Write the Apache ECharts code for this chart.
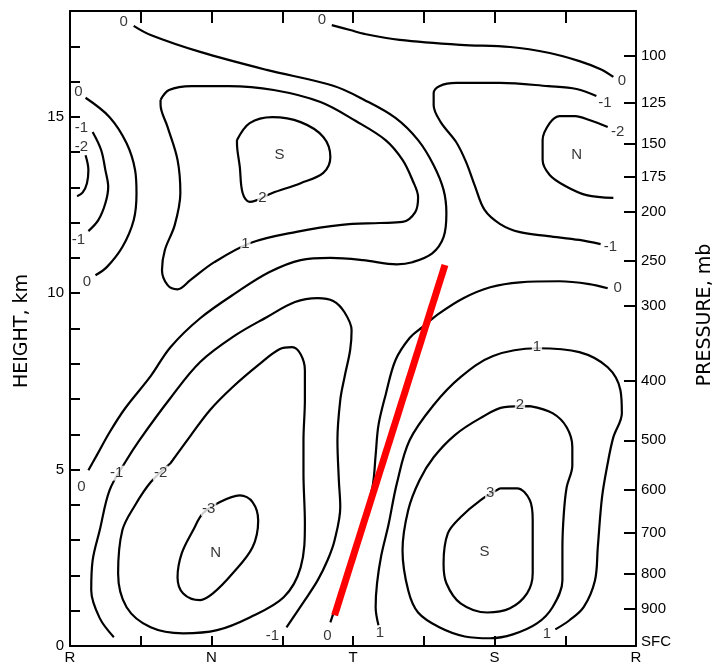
<!DOCTYPE html>
<html>
<head>
<meta charset="utf-8">
<script src="https://cdn.jsdelivr.net/npm/echarts@6/dist/echarts.min.js"></script>
<style>html,body{margin:0;padding:0;background:#fff}#chart{width:714px;height:665px}</style>
</head>
<body>
<div id="chart"></div>
<script>
// x positions: 0=R, 1=N, 2=T, 3=S, 4=R ; y = height (km)
const xTickLabels = ['R', 'N', 'T', 'S', 'R'];
const heightLabels = [0, 5, 10, 15];
const pressureLabels = ['100','125','150','175','200','250','300','400','500','600','700','800','900','SFC'];
const pressureHeights = [16.73, 15.39, 14.23, 13.31, 12.32, 10.91, 9.64, 7.52, 5.83, 4.42, 3.20, 2.04, 1.05, 0.12];

// contour lines (x, height km)
const c0TopLeft = [[0.45,17.58],[0.57,17.32],[0.92,16.84],[1.39,16.33],[1.86,15.88],[2.08,15.48],[2.30,14.97],[2.46,14.34],[2.57,13.63],[2.64,12.93],[2.66,12.27],[2.64,11.59],[2.56,11.13],[2.42,10.88],[2.31,10.82],[2.07,10.94],[1.84,11.00],[1.63,10.94],[1.41,10.60],[1.18,10.03],[0.92,9.29],[0.71,8.47],[0.57,7.65],[0.39,6.74],[0.28,6.06],[0.19,5.41],[0.13,4.98]];
const c0Top = [[1.85,17.60],[1.98,17.46],[2.08,17.35],[2.33,17.18],[2.76,17.04],[3.11,16.98],[3.39,16.81],[3.60,16.58],[3.75,16.35],[3.84,16.13]];
const c1Upper = [[0.64,15.48],[0.70,15.76],[0.86,15.87],[1.12,15.87],[1.44,15.76],[1.77,15.42],[2.02,14.88],[2.23,14.34],[2.35,13.78],[2.42,13.21],[2.46,12.72],[2.44,12.30],[2.35,12.02],[2.19,11.99],[1.92,11.94],[1.60,11.74],[1.28,11.43],[1.02,10.88],[0.85,10.37],[0.76,10.11],[0.69,10.23],[0.65,10.66],[0.67,11.22],[0.74,11.93],[0.78,12.84],[0.76,13.78],[0.69,14.71],[0.64,15.34],[0.64,15.48]];
const c2Upper = [[1.18,14.34],[1.27,14.82],[1.43,14.99],[1.63,14.85],[1.79,14.43],[1.84,13.86],[1.79,13.41],[1.63,13.12],[1.43,12.84],[1.27,12.59],[1.22,12.84],[1.20,13.58],[1.18,14.26],[1.18,14.34]];
const cm1UpperRight = [[3.72,15.59],[3.58,15.79],[3.38,15.87],[3.04,15.96],[2.73,15.96],[2.61,15.87],[2.57,15.67],[2.57,15.33],[2.62,14.85],[2.73,14.28],[2.80,13.71],[2.86,13.06],[2.93,12.36],[3.04,11.96],[3.18,11.73],[3.38,11.62],[3.60,11.51],[3.75,11.39]];
const cm2UpperRight = [[3.80,14.71],[3.67,14.91],[3.57,15.02],[3.46,15.02],[3.39,14.82],[3.34,14.34],[3.34,13.78],[3.39,13.35],[3.50,13.04],[3.65,12.78],[3.84,12.70]];
const c0Left = [[0.11,15.54],[0.28,14.99],[0.40,14.25],[0.46,13.49],[0.47,12.83],[0.45,12.07],[0.37,11.31],[0.26,10.74],[0.18,10.51]];
const cm1Left = [[0.16,14.57],[0.22,14.06],[0.25,13.49],[0.27,13.01],[0.25,12.55],[0.20,12.07],[0.13,11.76]];
const cm2Left = [[0.11,13.91],[0.13,13.49],[0.12,13.12],[0.09,12.86],[0.05,12.75]];
const cm1Lower = [[0.31,0.25],[0.21,0.79],[0.15,1.58],[0.16,2.43],[0.21,3.28],[0.28,4.42],[0.39,5.21],[0.49,5.83],[0.71,7.03],[0.92,8.05],[1.17,8.81],[1.39,9.32],[1.59,9.75],[1.75,9.86],[1.86,9.78],[1.94,9.46],[1.99,8.95],[1.98,8.39],[1.94,7.62],[1.91,6.97],[1.89,5.83],[1.90,4.70],[1.91,3.94],[1.87,3.00],[1.82,2.43],[1.75,1.86],[1.66,1.30],[1.53,0.53]];
const cm2Lower = [[0.71,5.18],[0.85,5.95],[0.99,6.69],[1.15,7.34],[1.33,7.96],[1.48,8.41],[1.57,8.47],[1.63,8.27],[1.66,7.82],[1.66,6.97],[1.65,5.83],[1.65,4.90],[1.66,3.48],[1.63,2.23],[1.51,1.38],[1.27,0.81],[1.04,0.45],[0.80,0.36],[0.57,0.53],[0.40,1.10],[0.34,2.06],[0.37,3.28],[0.46,3.99],[0.57,4.64],[0.71,5.18]];
const cm3Lower = [[1.06,4.08],[1.20,4.27],[1.29,4.08],[1.33,3.56],[1.29,2.80],[1.15,2.06],[1.01,1.49],[0.92,1.30],[0.80,1.49],[0.76,1.95],[0.79,2.63],[0.87,3.28],[0.94,3.76],[1.06,4.08]];
const c0Lower = [[1.84,0.67],[1.88,1.15],[1.94,1.92],[2.02,2.86],[2.09,3.79],[2.14,4.56],[2.16,5.41],[2.18,6.26],[2.23,7.11],[2.30,8.10],[2.40,8.73],[2.49,9.04],[2.61,9.43],[2.78,9.86],[2.97,10.17],[3.18,10.31],[3.46,10.34],[3.67,10.26],[3.80,10.14]];
const c1Lower = [[2.18,0.59],[2.16,1.10],[2.17,1.78],[2.20,2.57],[2.25,3.42],[2.31,4.61],[2.40,5.83],[2.57,6.83],[2.76,7.62],[2.99,8.22],[3.30,8.44],[3.60,8.33],[3.80,7.90],[3.89,7.25],[3.90,6.60],[3.84,5.92],[3.80,5.18],[3.76,4.22],[3.73,2.80],[3.71,1.86],[3.63,1.10],[3.53,0.73],[3.43,0.47]];
const c2Lower = [[3.25,6.80],[3.41,6.60],[3.51,6.20],[3.55,5.64],[3.55,5.12],[3.51,4.50],[3.49,3.76],[3.48,2.80],[3.48,1.86],[3.41,1.10],[3.30,0.64],[3.13,0.33],[2.97,0.22],[2.79,0.27],[2.61,0.53],[2.46,0.95],[2.39,1.58],[2.35,2.71],[2.39,3.85],[2.47,4.70],[2.57,5.35],[2.72,5.98],[2.90,6.46],[3.07,6.77],[3.25,6.80]];
const c3Lower = [[3.04,4.47],[3.16,4.47],[3.25,4.13],[3.27,3.56],[3.27,2.06],[3.23,1.49],[3.11,1.07],[2.95,0.95],[2.76,1.21],[2.66,1.78],[2.64,2.34],[2.67,3.19],[2.76,3.65],[2.90,4.13],[3.04,4.47]];
const troughLine = [[2.65,10.80],[1.87,0.87]];

// contour labels
const labelTexts = ['0','0','0','-1','-2','-1','0','1','2','3','1','1','0','-1','-3','-2','-1','0','0','-1','-2','-1','0','1','2','S','N','N','S'];
const labelXs =    [0.38,1.78,3.90,3.78,3.87,3.82,3.87,3.30,3.18,2.97,3.37,2.19,1.82,1.43,0.98,0.64,0.33,0.08,0.12,0.06,0.08,0.08,0.06,1.24,1.36,1.48,3.58,1.03,2.93];
const labelYs =    [17.69,17.75,16.02,15.39,14.56,11.31,10.14,8.47,6.83,4.33,0.33,0.36,0.30,0.30,3.90,4.90,4.90,4.50,10.31,11.50,14.14,14.68,15.70,11.39,12.70,13.92,13.92,2.63,2.68];
const labelInLine = [0,0,0,0,0,0,0,1,1,1,0,0,0,0,1,1,1,0,0,0,0,0,0,1,1,0,0,0,0];

const contours = [c0TopLeft,c0Top,c1Upper,c2Upper,cm1UpperRight,cm2UpperRight,c0Left,cm1Left,cm2Left,cm1Lower,cm2Lower,cm3Lower,c0Lower,c1Lower,c2Lower,c3Lower];

const FONT = 'Liberation Sans';
const series = contours.map(d => ({
  type: 'line', data: d, smooth: 0.35, showSymbol: false, symbol: 'none', silent: true,
  lineStyle: { color: '#000', width: 2.2 }, z: 2, clip: true
}));
series.push({
  type: 'line', data: troughLine, showSymbol: false, symbol: 'none', silent: true,
  lineStyle: { color: '#ff0000', width: 7, cap: 'butt' }, z: 5
});
const lblData = labelTexts.map((t, i) => ({ value: [labelXs[i], labelYs[i]], name: t,
  label: labelInLine[i] ? { backgroundColor: '#fff', padding: [0, 1] } : {} }));
series.push({
  type: 'scatter', data: lblData, symbolSize: 1, silent: true, z: 10,
  itemStyle: { color: 'rgba(0,0,0,0)' },
  label: { show: true, position: 'inside', formatter: p => p.name, color: '#000',
    fontSize: 15, fontFamily: FONT }
});

const chart = echarts.init(document.getElementById('chart'), null, { renderer: 'canvas' });
const axisLineStyle = { color: '#000', width: 2 };
chart.setOption({
  animation: false,
  backgroundColor: '#fff',
  grid: { left: 70, right: 78, top: 11, bottom: 19, containLabel: false },
  xAxis: [
    { type: 'value', min: 0, max: 4, interval: 0.5, position: 'bottom',
      axisLine: { onZero: false, lineStyle: axisLineStyle },
      axisTick: { inside: true, length: 10, lineStyle: { color: '#000', width: 2 } },
      axisLabel: { margin: 4, color: '#000', fontSize: 15, fontFamily: FONT,
        formatter: v => (Math.abs(v - Math.round(v)) < 1e-6 ? xTickLabels[Math.round(v)] : '') },
      splitLine: { show: false } },
    { type: 'value', min: 0, max: 4, interval: 0.5, position: 'top',
      axisLine: { onZero: false, lineStyle: axisLineStyle },
      axisTick: { inside: true, length: 12, lineStyle: { color: '#000', width: 2 } },
      axisLabel: { show: false }, splitLine: { show: false } }
  ],
  yAxis: [
    { type: 'value', min: 0, max: 18, interval: 1, position: 'left',
      axisLine: { onZero: false, lineStyle: axisLineStyle },
      axisTick: { inside: true, length: 10, lineStyle: { color: '#000', width: 2 } },
      axisLabel: { margin: 6, color: '#000', fontSize: 15, fontFamily: FONT,
        formatter: v => (heightLabels.indexOf(v) >= 0 ? String(v) : '') },
      splitLine: { show: false } },
    { type: 'value', min: 0, max: 18, position: 'right',
      axisLine: { onZero: false, lineStyle: axisLineStyle },
      axisTick: { inside: true, length: 12, lineStyle: { color: '#000', width: 2 },
        customValues: pressureHeights.slice(0, 13) },
      axisLabel: { margin: 5, color: '#000', fontSize: 15, fontFamily: FONT,
        customValues: pressureHeights,
        formatter: v => { let best = 0, bd = 1e9; pressureHeights.forEach((h, i) => { const d = Math.abs(h - v); if (d < bd) { bd = d; best = i; } }); return pressureLabels[best]; } },
      splitLine: { show: false } }
  ],
  graphic: [
    { type: 'text', x: 22, y: 331, rotation: Math.PI / 2, silent: true,
      style: { text: 'HEIGHT, km', fill: '#000', font: '19px "DejaVu Sans"', align: 'center', verticalAlign: 'middle' } },
    { type: 'text', x: 705, y: 315, rotation: Math.PI / 2, silent: true,
      style: { text: 'PRESSURE, mb', fill: '#000', font: '19px "DejaVu Sans"', align: 'center', verticalAlign: 'middle' } }
  ],
  series: series
});
</script>
</body>
</html>
